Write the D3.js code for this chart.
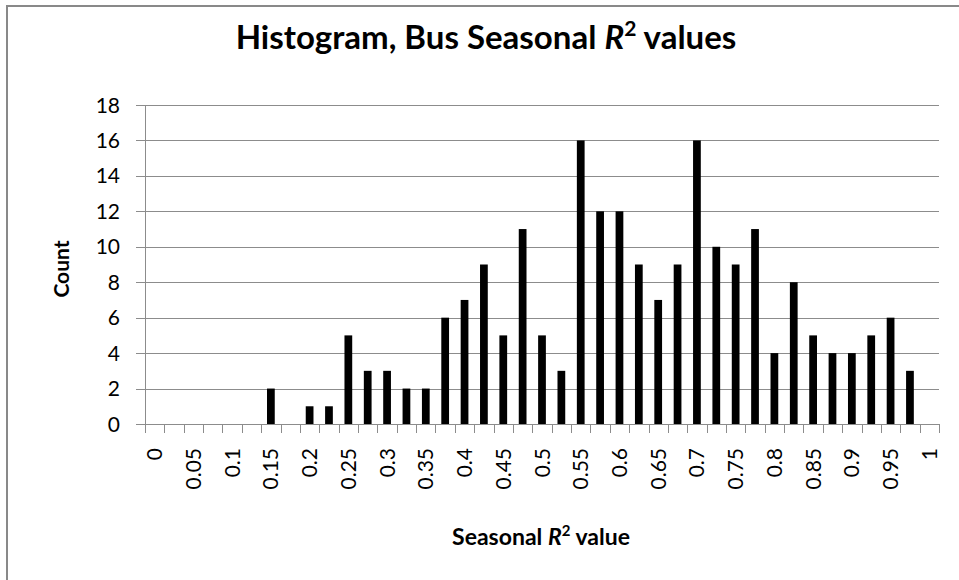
<!DOCTYPE html>
<html>
<head>
<meta charset="utf-8">
<script src="https://cdn.jsdelivr.net/npm/d3@7"></script>
<style>
  body { margin: 0; background: #fff; }
  text { font-family: Lato, "Open Sans", sans-serif; fill: #000; }
</style>
</head>
<body>
<script>
// Bin starts (0 to 1 by 0.025), only every second one is labelled
var bins = ["0", "0.025", "0.05", "0.075", "0.1", "0.125", "0.15", "0.175", "0.2", "0.225",
            "0.25", "0.275", "0.3", "0.325", "0.35", "0.375", "0.4", "0.425", "0.45", "0.475",
            "0.5", "0.525", "0.55", "0.575", "0.6", "0.625", "0.65", "0.675", "0.7", "0.725",
            "0.75", "0.775", "0.8", "0.825", "0.85", "0.875", "0.9", "0.925", "0.95", "0.975", "1"];

// Counts
var counts = [0, 0, 0, 0, 0, 0, 2, 0, 1, 1,
              5, 3, 3, 2, 2, 6, 7, 9, 5, 11,
              5, 3, 16, 12, 12, 9, 7, 9, 16, 10,
              9, 11, 4, 8, 5, 4, 4, 5, 6, 3, 0];

var labelled = ["0", "0.05", "0.1", "0.15", "0.2", "0.25", "0.3", "0.35", "0.4", "0.45", "0.5",
                "0.55", "0.6", "0.65", "0.7", "0.75", "0.8", "0.85", "0.9", "0.95", "1"];

var yTicks = [0, 2, 4, 6, 8, 10, 12, 14, 16, 18];

var width = 959, height = 580;
var plot = {left: 145, right: 939, top: 105, bottom: 424};

var svg = d3.select("body").append("svg")
    .attr("width", width)
    .attr("height", height);

// outer chart border
svg.append("rect")
    .attr("x", 7).attr("y", 6)
    .attr("width", 960).attr("height", 590)
    .attr("fill", "none")
    .attr("stroke", "#898989")
    .attr("stroke-width", 2);

var x = d3.scaleBand()
    .domain(bins)
    .range([plot.left, plot.right])
    .paddingInner(0).paddingOuter(0);

var y = d3.scaleLinear()
    .domain([0, 18])
    .range([plot.bottom, plot.top]);

// horizontal gridlines + y ticks
svg.append("g")
    .selectAll("line")
    .data(yTicks)
    .enter().append("line")
    .attr("x1", plot.left - 9)
    .attr("x2", plot.right)
    .attr("y1", function(d) { return Math.round(y(d)) + 0.5; })
    .attr("y2", function(d) { return Math.round(y(d)) + 0.5; })
    .attr("stroke", "#8c8c8c")
    .attr("stroke-width", 1);

svg.append("g")
    .selectAll("text")
    .data(yTicks)
    .enter().append("text")
    .attr("x", 120)
    .attr("y", function(d) { return y(d); })
    .attr("dy", "0.36em")
    .attr("text-anchor", "end")
    .attr("font-size", 21)
    .text(function(d) { return d; });

// y axis line
svg.append("line")
    .attr("x1", plot.left + 0.5).attr("x2", plot.left + 0.5)
    .attr("y1", plot.top).attr("y2", plot.bottom)
    .attr("stroke", "#8c8c8c");

// bars
var barW = x.bandwidth() * 0.4;
svg.append("g")
    .selectAll("rect")
    .data(counts)
    .enter().append("rect")
    .attr("x", function(d, i) { return x(bins[i]) + (x.bandwidth() - barW) / 2; })
    .attr("y", function(d) { return y(d); })
    .attr("width", barW)
    .attr("height", function(d) { return y(0) - y(d); })
    .attr("fill", "#000");

// x tick marks at the bin boundaries
var edges = bins.map(function(b) { return x(b); }).concat([plot.right]);
svg.append("g")
    .selectAll("line")
    .data(edges)
    .enter().append("line")
    .attr("x1", function(d) { return Math.round(d) + 0.5; })
    .attr("x2", function(d) { return Math.round(d) + 0.5; })
    .attr("y1", plot.bottom)
    .attr("y2", plot.bottom + 9)
    .attr("stroke", "#8c8c8c");

// rotated x labels
svg.append("g")
    .selectAll("text")
    .data(labelled)
    .enter().append("text")
    .attr("transform", function(d) {
        return "translate(" + (x(d) + x.bandwidth() / 2) + "," + 448 + ") rotate(-90)";
    })
    .attr("dy", "0.36em")
    .attr("text-anchor", "end")
    .attr("font-size", 21)
    .text(function(d) { return d; });

// title
var title = svg.append("text")
    .attr("x", 486).attr("y", 49)
    .attr("text-anchor", "middle")
    .attr("font-size", 33)
    .attr("font-weight", "bold");
title.append("tspan").text("Histogram, Bus Seasonal ");
title.append("tspan").attr("font-style", "italic").text("R");
title.append("tspan").attr("font-size", 21).attr("dy", -13).text("2");
title.append("tspan").attr("dy", 13).text(" values");

// axis titles
svg.append("text")
    .attr("transform", "translate(69,269) rotate(-90)")
    .attr("text-anchor", "middle")
    .attr("font-size", 21)
    .attr("font-weight", "bold")
    .text("Count");

var xt = svg.append("text")
    .attr("x", 541).attr("y", 545)
    .attr("text-anchor", "middle")
    .attr("font-size", 23)
    .attr("font-weight", "bold");
xt.append("tspan").text("Seasonal ");
xt.append("tspan").attr("font-style", "italic").text("R");
xt.append("tspan").attr("font-size", 15).attr("dy", -9).text("2");
xt.append("tspan").attr("dy", 9).text(" value");
</script>
</body>
</html>
